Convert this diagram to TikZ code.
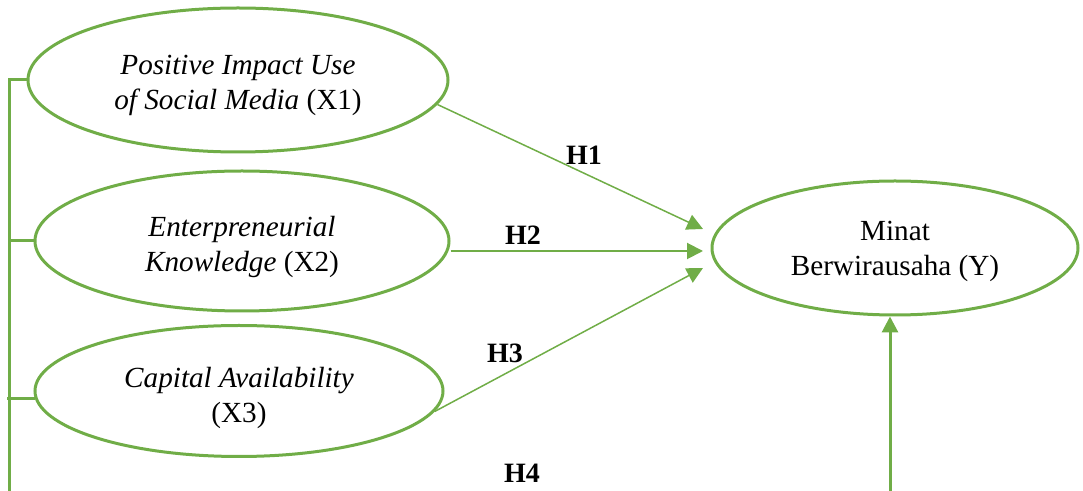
\documentclass[tikz,border=0pt]{standalone}
\usepackage{fontspec}
\setmainfont{Liberation Serif}
\usetikzlibrary{shapes.geometric,arrows.meta}
\definecolor{ogreen}{RGB}{112,173,71}
\tikzset{
  var/.style={ellipse, draw=ogreen, line width=1.5pt, inner sep=0pt},
  txt/.style={align=center, inner sep=0pt, font=\fontsize{14.6}{17.5}\selectfont},
  link/.style={draw=ogreen, line width=0.75pt, -{Triangle[length=8pt,width=8pt]}},
  hlab/.style={font=\fontsize{14}{16}\selectfont\bfseries, inner sep=0pt},
  bracket/.style={draw=ogreen, line width=1.5pt}
}
\begin{document}
\begin{tikzpicture}[x=0.5pt,y=-0.5pt]
\useasboundingbox (0,0) rectangle (1083,491);
\node[var, minimum width=420pt*0.5, minimum height=144pt*0.5] (e1) at (238,80) {};
\node[var, minimum width=414pt*0.5, minimum height=140pt*0.5] (e2) at (242,241) {};
\node[var, minimum width=408pt*0.5, minimum height=131pt*0.5] (e3) at (239,391) {};
\node[var, minimum width=366pt*0.5, minimum height=134pt*0.5] (ey) at (895,248) {};
\node[txt] (x1) at ([yshift=-2.5pt]e1.center)
  {\textit{Positive Impact Use}\\\textit{of Social Media} (X1)};
\node[txt] (x2) at ([yshift=-3pt]e2.center)
  {\textit{Enterpreneurial}\\\textit{Knowledge} (X2)};
\node[txt] (x3) at ([yshift=-3.5pt]e3.center)
  {\textit{Capital Availability}\\(X3)};
\node[txt] (y) at ([yshift=-1.5pt]ey.center)
  {Minat\\Berwirausaha (Y)};
\coordinate (t1) at (703,229);
\coordinate (t2) at (703,251);
\coordinate (t3) at (703,268);
\coordinate (b0) at (9,491);
\coordinate (b3) at (7,399);
\coordinate (v0) at (890,491);
\draw[link] (e1.-7) -- (t1);
\draw[link, line width=1pt] (t2 -| e2.east) -- (t2);
\draw[link] (e3.-6) -- (t3);
\draw[link, line width=1.5pt] (v0) -- (ey.south -| v0);
\draw[bracket] (e1.west) -| (b0);
\draw[bracket] (e2.west) -- (e2.west -| b0);
\draw[bracket] (e3.182) -- (e3.182 -| b3);
\node[hlab] (h1) at (584,155) {H1};
\node[hlab] (h2) at (523,235) {H2};
\node[hlab] (h3) at (505,353) {H3};
\node[hlab] (h4) at (522,473) {H4};
\end{tikzpicture}
\end{document}
